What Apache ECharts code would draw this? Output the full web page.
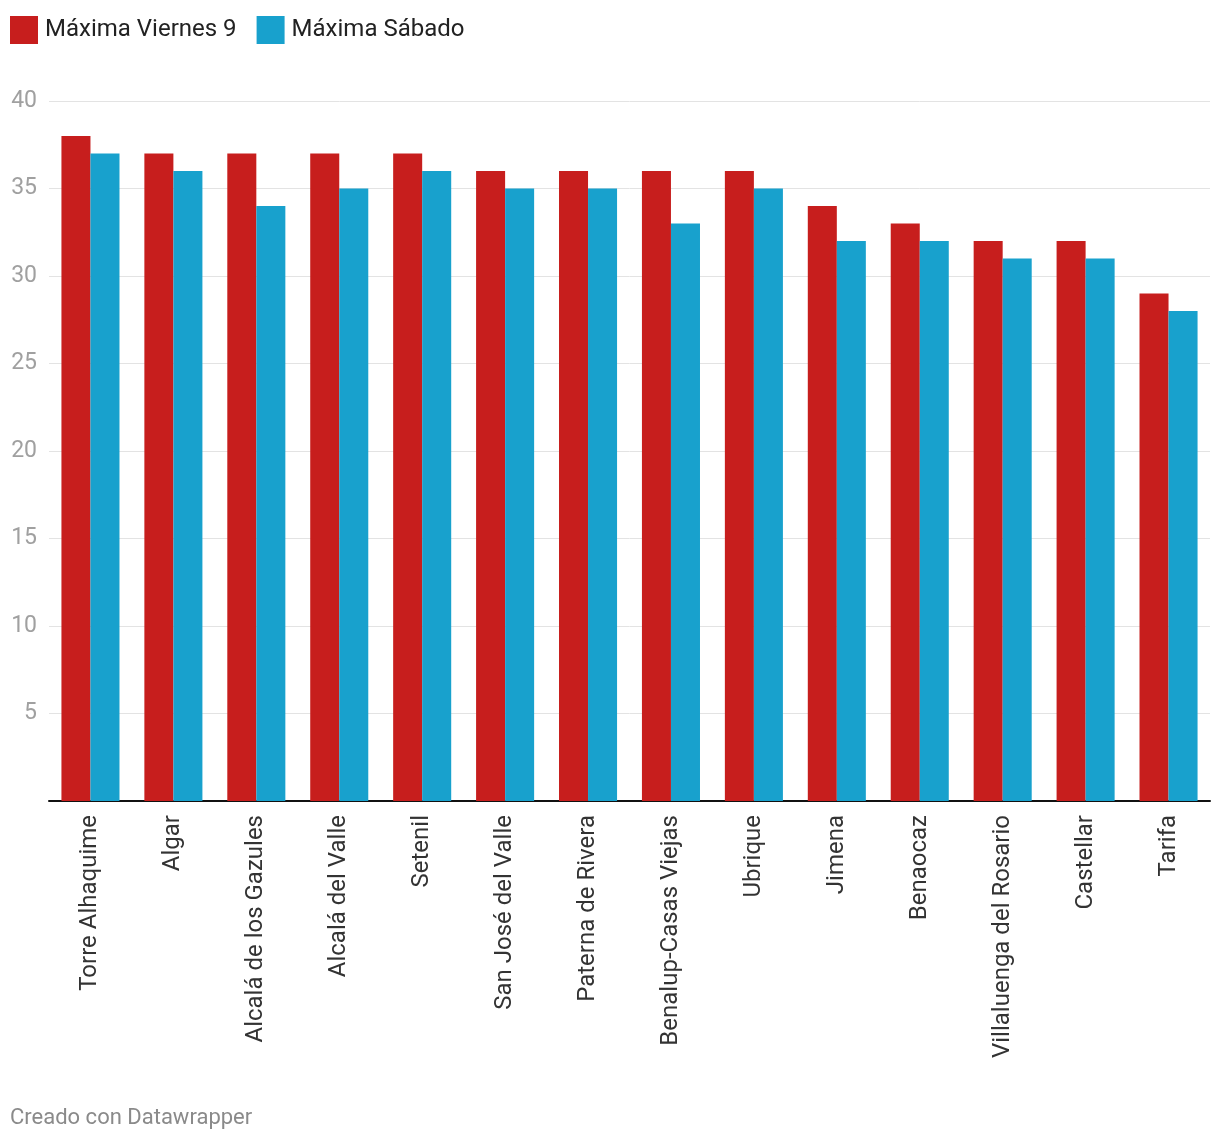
<!DOCTYPE html>
<html><head><meta charset="utf-8">
<script src="https://cdn.jsdelivr.net/npm/echarts@6/dist/echarts.min.js"></script>
<style>html,body{margin:0;padding:0;background:#fff}#c{width:1220px;height:1140px}</style>
</head><body><div id="c"></div>
<script>
const categories = ["Torre Alhaquime","Algar","Alcalá de los Gazules","Alcalá del Valle","Setenil","San José del Valle","Paterna de Rivera","Benalup-Casas Viejas","Ubrique","Jimena","Benaocaz","Villaluenga del Rosario","Castellar","Tarifa"];
const viernes = [38,37,37,37,37,36,36,36,36,34,33,32,32,29];
const sabado = [37,36,34,35,36,35,35,33,35,32,32,31,31,28];
const seriesNames = ["Máxima Viernes 9","Máxima Sábado"];
const yTicks = {min:0,max:40,interval:5};

const chart = echarts.init(document.getElementById('c'));
chart.setOption({
  animation:false,
  textStyle:{fontFamily:'Roboto'},
  legend:{left:5,top:11,itemWidth:28,itemHeight:28,itemGap:20,icon:'rect',
    textStyle:{fontSize:24,color:'#222',fontFamily:'Roboto',padding:[0,0,0,2]},
    data:seriesNames},
  grid:{left:49,right:10,top:101,bottom:339,containLabel:false},
  xAxis:{type:'category',data:categories,
    axisLine:{lineStyle:{color:'#111',width:2}},axisTick:{show:false},
    axisLabel:{rotate:90,fontSize:24,color:'#333',margin:14,interval:0,fontFamily:'Roboto',padding:[0,0,-6,0]}},
  yAxis:{type:'value',min:yTicks.min,max:yTicks.max,interval:yTicks.interval,
    axisLine:{show:false},axisTick:{show:false},
    splitLine:{lineStyle:{color:'#e3e3e3',width:1}},
    axisLabel:{fontSize:23,color:'#a0a0a0',margin:12,fontFamily:'Roboto',padding:[3,0,0,0],
      formatter:v=>v===0?'':String(v)}},
  series:[
    {name:seriesNames[0],type:'bar',data:viernes,itemStyle:{color:'#c71e1d'},barGap:'0%',barCategoryGap:'30%'},
    {name:seriesNames[1],type:'bar',data:sabado,itemStyle:{color:'#18a1cd'},barGap:'0%',barCategoryGap:'30%'}
  ],
  graphic:[{type:'text',left:10,top:1107,style:{text:'Creado con Datawrapper',fontSize:22,fill:'#8a8a8a',fontFamily:'Roboto'}}]
});
</script></body></html>
